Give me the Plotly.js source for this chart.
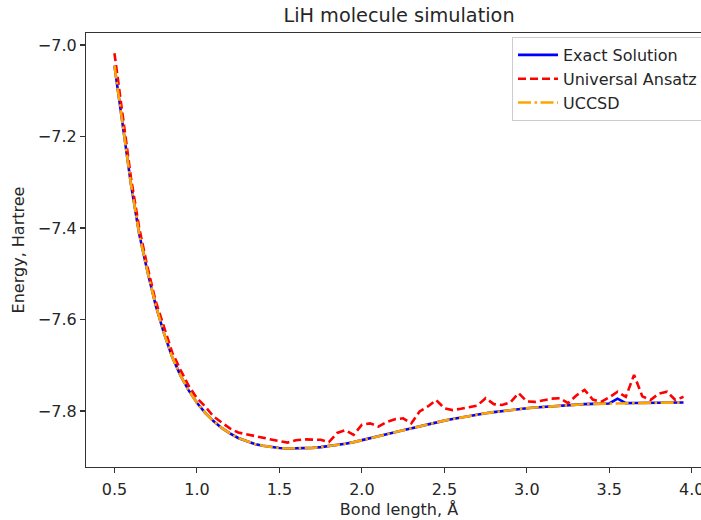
<!DOCTYPE html>
<html>
<head>
<meta charset="utf-8">
<script src="https://cdn.plot.ly/plotly-3.0.1.min.js"></script>
<style>
html, body { margin: 0; padding: 0; overflow: hidden; background: #fff; }
#chart { width: 720px; height: 520px; }
</style>
</head>
<body>
<div id="chart"></div>
<script>
// Bond lengths (Å)
const bondLength = [0.50, 0.55, 0.60, 0.65, 0.70, 0.75, 0.80, 0.85, 0.90, 0.95,
  1.00, 1.05, 1.10, 1.15, 1.20, 1.25, 1.30, 1.35, 1.40, 1.45,
  1.50, 1.55, 1.60, 1.65, 1.70, 1.75, 1.80, 1.85, 1.90, 1.95,
  2.00, 2.05, 2.10, 2.15, 2.20, 2.25, 2.30, 2.35, 2.40, 2.45,
  2.50, 2.55, 2.60, 2.65, 2.70, 2.75, 2.80, 2.85, 2.90, 2.95,
  3.00, 3.05, 3.10, 3.15, 3.20, 3.25, 3.30, 3.35, 3.40, 3.45,
  3.50, 3.55, 3.60, 3.65, 3.70, 3.75, 3.80, 3.85, 3.90, 3.95];

// Exact solution energies (Hartree)
const exactEnergy = [-7.045, -7.180, -7.304, -7.413, -7.495, -7.569, -7.630, -7.682, -7.722, -7.755,
  -7.782, -7.804, -7.822, -7.837, -7.849, -7.859, -7.866, -7.872, -7.876, -7.879,
  -7.881, -7.882, -7.882, -7.8815, -7.8805, -7.879, -7.877, -7.8745, -7.8715, -7.868,
  -7.864, -7.860, -7.8555, -7.851, -7.8465, -7.842, -7.8375, -7.833, -7.829, -7.825,
  -7.821, -7.8175, -7.814, -7.811, -7.808, -7.805, -7.8025, -7.800, -7.798, -7.796,
  -7.794, -7.7925, -7.791, -7.7895, -7.788, -7.787, -7.786, -7.785, -7.7845, -7.784,
  -7.7835, -7.773, -7.7828, -7.7826, -7.7824, -7.7822, -7.782, -7.7818, -7.7816, -7.7815];

// Universal Ansatz energies (Hartree)
const universalEnergy = [-7.018, -7.160, -7.290, -7.400, -7.485, -7.560, -7.615, -7.672, -7.710, -7.745,
  -7.772, -7.790, -7.812, -7.825, -7.838, -7.847, -7.851, -7.855, -7.858, -7.863,
  -7.866, -7.869, -7.864, -7.862, -7.863, -7.863, -7.868, -7.848, -7.842, -7.852,
  -7.830, -7.827, -7.834, -7.824, -7.818, -7.816, -7.827, -7.801, -7.790, -7.776,
  -7.794, -7.798, -7.795, -7.792, -7.788, -7.772, -7.785, -7.787, -7.781, -7.761,
  -7.779, -7.780, -7.776, -7.773, -7.772, -7.783, -7.766, -7.754, -7.775, -7.780,
  -7.770, -7.758, -7.769, -7.721, -7.768, -7.776, -7.762, -7.758, -7.776, -7.769];

// UCCSD energies (Hartree)
const uccsdEnergy = [-7.045, -7.180, -7.304, -7.413, -7.495, -7.569, -7.630, -7.682, -7.722, -7.755,
  -7.782, -7.804, -7.822, -7.837, -7.849, -7.859, -7.866, -7.872, -7.876, -7.879,
  -7.881, -7.882, -7.882, -7.8815, -7.8805, -7.879, -7.877, -7.8745, -7.8715, -7.868,
  -7.864, -7.860, -7.8555, -7.851, -7.8465, -7.842, -7.8375, -7.833, -7.829, -7.825,
  -7.821, -7.8175, -7.814, -7.811, -7.808, -7.805, -7.8025, -7.800, -7.798, -7.796,
  -7.794, -7.7925, -7.791, -7.7895, -7.788, -7.787, -7.786, -7.785, -7.7845, -7.784,
  -7.7835, -7.7832, -7.7828, -7.7826, -7.7824, -7.7822, -7.782, -7.7818, -7.7816, -7.7815];

const seriesNames = ['Exact Solution', 'Universal Ansatz', 'UCCSD'];
const xTickVals = [0.5, 1.0, 1.5, 2.0, 2.5, 3.0, 3.5, 4.0];
const yTickVals = [-7.8, -7.6, -7.4, -7.2, -7.0];

const FONT = 'DejaVu Sans, sans-serif';
const TXT = '#262626';
const FS = 16;

const traces = [
  { x: bondLength, y: exactEnergy, name: seriesNames[0], mode: 'lines',
    line: { color: '#0000ff', width: 2.6 } },
  { x: bondLength, y: universalEnergy, name: seriesNames[1], mode: 'lines',
    line: { color: '#ff0000', width: 2.6, dash: '8px,4px' } },
  { x: bondLength, y: uccsdEnergy, name: seriesNames[2], mode: 'lines',
    line: { color: '#ffa500', width: 2.6, dash: '13px,3.5px,2.5px,3.5px' } }
];

const layout = {
  width: 720, height: 520,
  margin: { l: 86, r: 8, t: 33, b: 53, pad: 0 },
  paper_bgcolor: '#ffffff', plot_bgcolor: '#ffffff',
  font: { family: FONT, size: FS, color: TXT },
  title: { text: 'LiH molecule simulation', font: { family: FONT, size: 19.3, color: TXT },
           x: 0.5, xref: 'paper', xanchor: 'center', y: 1 - 15.5/520, yref: 'container', yanchor: 'middle' },
  xaxis: {
    range: [0.3275, 4.1225], tickmode: 'array', tickvals: xTickVals,
    ticktext: xTickVals.map(v => v.toFixed(1)),
    ticks: 'outside', ticklen: 5, tickwidth: 1.1, tickcolor: '#333',
    ticklabelstandoff: 3,
    showline: true, linecolor: '#333', linewidth: 1.1, mirror: true,
    showgrid: false, zeroline: false,
    tickfont: { family: FONT, size: FS, color: TXT },
    title: { text: 'Bond length, Å', font: { family: FONT, size: FS, color: TXT }, standoff: 5 }
  },
  yaxis: {
    range: [-7.9224, -6.9738], tickmode: 'array', tickvals: yTickVals,
    ticktext: yTickVals.map(v => '\u2212' + Math.abs(v).toFixed(1)),
    ticks: 'outside', ticklen: 5, tickwidth: 1.1, tickcolor: '#333',
    showline: true, linecolor: '#333', linewidth: 1.1, mirror: true,
    showgrid: false, zeroline: false,
    tickfont: { family: FONT, size: FS, color: TXT },
    title: { text: 'Energy, Hartree', font: { family: FONT, size: FS, color: TXT }, standoff: 9 }
  },
  legend: {
    x: (512 - 86) / 626, xanchor: 'left', y: 1 - 4/434, yanchor: 'top',
    itemwidth: 40,
    bgcolor: 'rgba(255,255,255,0.8)', bordercolor: '#cccccc', borderwidth: 1,
    font: { family: FONT, size: FS, color: TXT }
  },
  showlegend: true
};

Plotly.newPlot('chart', traces, layout, { displayModeBar: false, staticPlot: true });
</script>
</body>
</html>
